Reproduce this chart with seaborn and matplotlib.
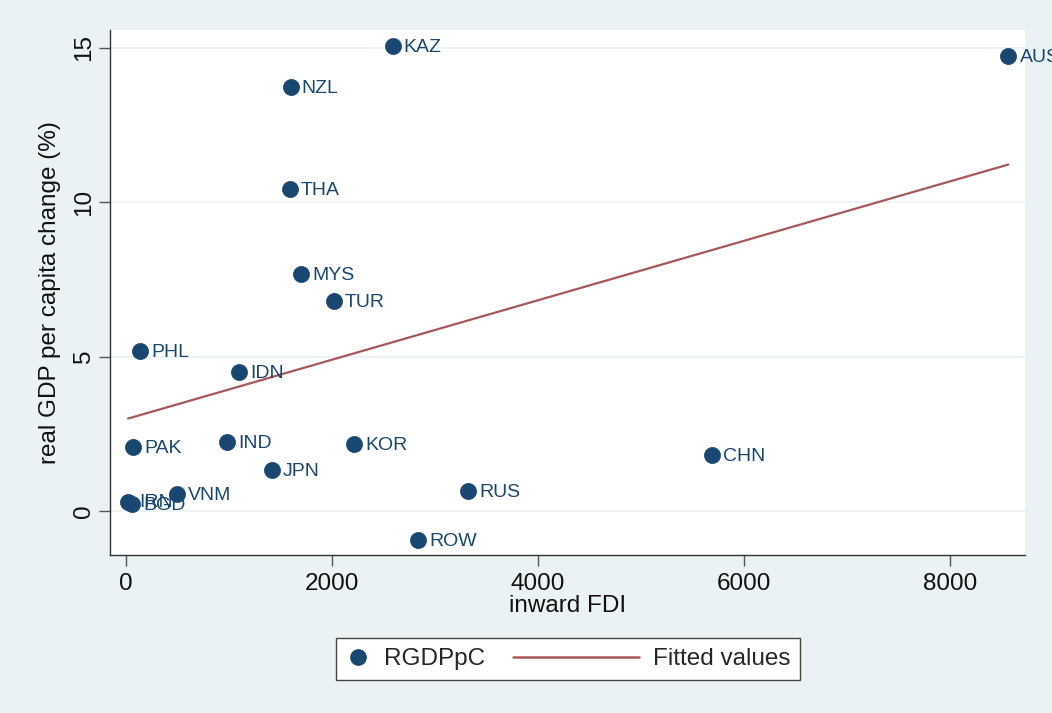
import matplotlib.pyplot as plt
from matplotlib.lines import Line2D
from matplotlib.legend_handler import HandlerLine2D
import pandas as pd
import seaborn as sns

# data
countries = ["KAZ", "AUS", "NZL", "THA", "MYS", "TUR", "PHL", "IDN", "PAK", "IND",
             "KOR", "CHN", "JPN", "RUS", "VNM", "ROW", "IRN", "BGD"]
inward_fdi = [2590, 8570, 1600, 1590, 1700, 2020, 136, 1100, 68, 980,
              2215, 5690, 1417, 3320, 495, 2835, 20, 60]
rgdppc = [15.06, 14.74, 13.73, 10.43, 7.68, 6.80, 5.18, 4.50, 2.07, 2.24,
          2.17, 1.81, 1.33, 0.65, 0.55, -0.94, 0.30, 0.22]

df = pd.DataFrame({"country": countries, "fdi": inward_fdi, "gdp": rgdppc})

navy = "#1a476f"
maroon = "#a8585a"
bg = "#eaf2f3"
ink = "#111111"


class LongLineHandler(HandlerLine2D):
    # stretch the legend line to the left of its (short) handle box
    def create_artists(self, legend, orig_handle, xdescent, ydescent, width,
                       height, fontsize, trans):
        arts = super().create_artists(legend, orig_handle, xdescent, ydescent,
                                      width, height, fontsize, trans)
        line = arts[0]
        y0 = line.get_ydata()[0]
        line.set_data([-xdescent - 73, -xdescent + width], [y0, y0])
        return arts


sns.set_style("white")
plt.rcParams["font.family"] = ["Liberation Sans", "DejaVu Sans"]

fig = plt.figure(figsize=(10.52, 7.13), dpi=100, facecolor=bg)
ax = fig.add_axes([0.1046, 0.2216, 0.8694, 0.7364])
ax.set_facecolor("white")

sns.scatterplot(data=df, x="fdi", y="gdp", color=navy, s=135, edgecolor=navy,
                linewidth=0.5, ax=ax, legend=False, zorder=3)
sns.regplot(data=df, x="fdi", y="gdp", scatter=False, ci=None, ax=ax,
            line_kws={"color": maroon, "lw": 1.6})

for c, x, y in zip(countries, inward_fdi, rgdppc):
    ax.annotate(c, (x, y), xytext=(8, -1), textcoords="offset points",
                va="center", ha="left", fontsize=14, color=navy,
                annotation_clip=False)

ax.set_xlim(-155, 8728)
ax.set_ylim(-1.43, 15.58)
ax.set_xticks([0, 2000, 4000, 6000, 8000])
ax.set_yticks([0, 5, 10, 15])
ax.yaxis.grid(True, color=bg, lw=1.2)
ax.set_axisbelow(True)
for side in ["top", "right"]:
    ax.spines[side].set_visible(False)
for side in ["left", "bottom"]:
    ax.spines[side].set_color("#333333")
    ax.spines[side].set_linewidth(1.0)
ax.tick_params(axis="both", direction="out", length=8, width=1, color="#555555",
               labelsize=17.5, labelcolor=ink, bottom=True, left=True, pad=3)
ax.tick_params(axis="x", pad=5)
plt.setp(ax.get_yticklabels(), rotation=90, va="center")

ax.set_xlabel("inward FDI", fontsize=17.5, color=ink, labelpad=0)
ax.set_ylabel("real GDP per capita change (%)", fontsize=17.5, color=ink)
ax.yaxis.set_label_coords(-0.0535, 0.5)

handles = [
    Line2D([], [], marker="o", ls="none", color=navy, markersize=11),
    Line2D([], [], color=maroon, lw=1.8),
]
fig.legend(handles, ["RGDPpC", "Fitted values"], loc="center",
           bbox_to_anchor=(0.540, 0.0757), ncol=2, fontsize=17.5,
           frameon=True, fancybox=False, edgecolor="#444444", framealpha=1,
           columnspacing=5.3, handlelength=1.0, handletextpad=0.6,
           borderpad=0.4, handler_map={handles[1]: LongLineHandler()})

fig.savefig("out.png", dpi=100, facecolor=bg)
plt.close()
